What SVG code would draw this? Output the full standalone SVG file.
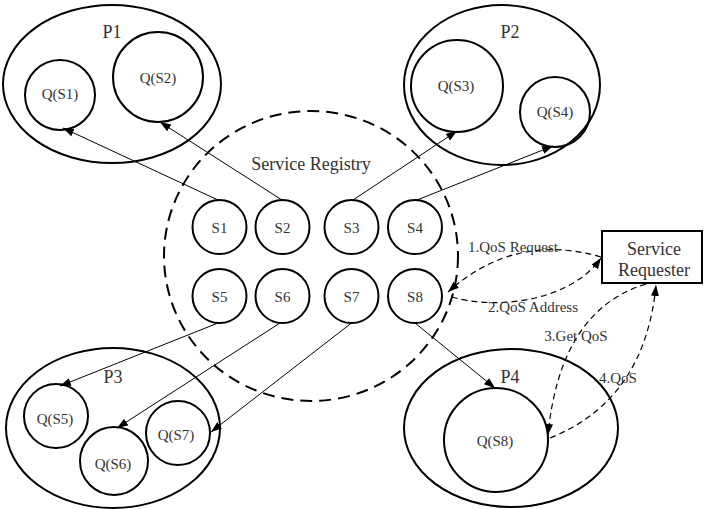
<svg xmlns="http://www.w3.org/2000/svg" width="705" height="509" viewBox="0 0 705 509">
<defs>
<style>
.big{fill:none;stroke:#000;stroke-width:2}
.reg{fill:none;stroke:#000;stroke-width:2;stroke-dasharray:12 7}
.ln{fill:none;stroke:#000;stroke-width:1}
.dl{fill:none;stroke:#000;stroke-width:1.2;stroke-dasharray:6 4}
text{font-family:"Liberation Serif","Times New Roman",serif;fill:#333;text-anchor:middle}
.t15{font-size:15px}
.t18{font-size:18px}
</style>
<marker id="ah" markerUnits="userSpaceOnUse" markerWidth="12" markerHeight="10" refX="11" refY="4" orient="auto">
<path d="M0,0 L11,4 L0,8 z" fill="#000"/>
</marker>
</defs>
<rect width="705" height="509" fill="#fff"/>

<g id="registry">
<ellipse class="reg" cx="311" cy="256" rx="147" ry="145"/>
<text class="t18" x="311" y="170">Service Registry</text>
</g>

<g id="P1">
<ellipse class="big" cx="112" cy="84" rx="109" ry="79"/>
<text class="t18" x="112" y="38">P1</text>
</g>
<g id="QS1"><circle class="big" cx="60" cy="95" r="35"/><text class="t15" x="60" y="99">Q(S1)</text></g>
<g id="QS2"><circle class="big" cx="158" cy="77" r="45"/><text class="t15" x="158" y="83">Q(S2)</text></g>

<g id="P2">
<ellipse class="big" cx="502" cy="85" rx="98" ry="80"/>
<text class="t18" x="510" y="38">P2</text>
</g>
<g id="QS3"><circle class="big" cx="457" cy="86" r="46"/><text class="t15" x="456" y="91">Q(S3)</text></g>
<g id="QS4"><circle class="big" cx="555" cy="112" r="35"/><text class="t15" x="555" y="117">Q(S4)</text></g>

<g id="P3">
<ellipse class="big" cx="113" cy="428" rx="107" ry="80"/>
<text class="t18" x="113" y="383">P3</text>
</g>
<g id="QS5"><circle class="big" cx="56" cy="416" r="32"/><text class="t15" x="55" y="424">Q(S5)</text></g>
<g id="QS6"><circle class="big" cx="114" cy="461" r="34"/><text class="t15" x="113" y="469">Q(S6)</text></g>
<g id="QS7"><circle class="big" cx="178" cy="433" r="32"/><text class="t15" x="176" y="440">Q(S7)</text></g>

<g id="P4">
<ellipse class="big" cx="511" cy="428" rx="107" ry="79"/>
<text class="t18" x="510" y="383">P4</text>
</g>
<g id="QS8"><circle class="big" cx="496" cy="440" r="52"/><text class="t15" x="495" y="446">Q(S8)</text></g>

<g id="S1"><circle class="big" cx="219.5" cy="227" r="27"/><text class="t15" x="219.5" y="233">S1</text></g>
<g id="S2"><circle class="big" cx="282.5" cy="227" r="27"/><text class="t15" x="282.5" y="233">S2</text></g>
<g id="S3"><circle class="big" cx="351.5" cy="227" r="27"/><text class="t15" x="351.5" y="233">S3</text></g>
<g id="S4"><circle class="big" cx="415" cy="227" r="27"/><text class="t15" x="415" y="233">S4</text></g>
<g id="S5"><circle class="big" cx="219.5" cy="296" r="27"/><text class="t15" x="219.5" y="302">S5</text></g>
<g id="S6"><circle class="big" cx="282.5" cy="296" r="27"/><text class="t15" x="282.5" y="302">S6</text></g>
<g id="S7"><circle class="big" cx="351.5" cy="296" r="27"/><text class="t15" x="351.5" y="302">S7</text></g>
<g id="S8"><circle class="big" cx="415" cy="296" r="27"/><text class="t15" x="415" y="302">S8</text></g>

<g id="requester">
<rect class="big" x="602" y="231" width="100" height="52"/>
<text class="t18" x="654" y="255">Service</text>
<text class="t18" x="654" y="276">Requester</text>
</g>

<g id="connectors">
<path class="ln" d="M218,200 L63,128" marker-end="url(#ah)"/>
<path class="ln" d="M282,200 L160,122" marker-end="url(#ah)"/>
<path class="ln" d="M353,200 L457,131" marker-end="url(#ah)"/>
<path class="ln" d="M417,200 L553,146" marker-end="url(#ah)"/>
<path class="ln" d="M218,323 L60,386" marker-end="url(#ah)"/>
<path class="ln" d="M280,323 L117,428" marker-end="url(#ah)"/>
<path class="ln" d="M351.5,323 L211,432" marker-end="url(#ah)"/>
<path class="ln" d="M415,323 L495,388" marker-end="url(#ah)"/>
<path class="dl" d="M601,257 Q515,232 448,292" marker-end="url(#ah)"/>
<path class="dl" d="M452,297 C495,310 570,302 601,258" marker-end="url(#ah)"/>
<path class="dl" d="M646,284 Q560,310 548,435" marker-end="url(#ah)"/>
<path class="dl" d="M550,438 Q645,400 656,285" marker-end="url(#ah)"/>
</g>

<g id="labels">
<text class="t15" x="513" y="252">1.QoS Request</text>
<text class="t15" x="533" y="312">2.QoS Address</text>
<text class="t15" x="576" y="341">3.Get QoS</text>
<text class="t15" x="618" y="383">4.QoS</text>
</g>
</svg>
